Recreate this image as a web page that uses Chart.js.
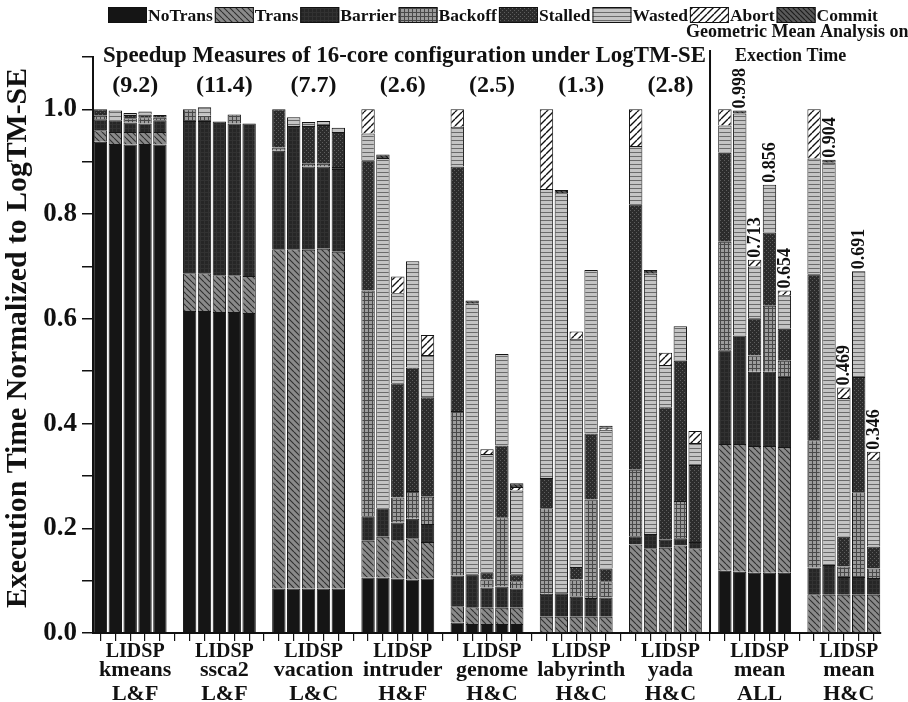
<!DOCTYPE html>
<html><head><meta charset="utf-8">
<script src="https://cdn.jsdelivr.net/npm/chart.js@4.4.1/dist/chart.umd.min.js"></script>
<style>html,body{margin:0;padding:0;background:#fff;}canvas{display:block;}</style>
</head><body>
<canvas id="c" width="908" height="702"></canvas>
<script>
// ---------- data ----------
const groupNames = ['kmeans','ssca2','vacation','intruder','genome','labyrinth','yada','mean','mean'];
const groupTypes = ['L&F','L&F','L&C','H&F','H&C','H&C','H&C','ALL','H&C'];
const barLetters = ['L','I','D','S','P'];
const speedups = ['(9.2)','(11.4)','(7.7)','(2.6)','(2.5)','(1.3)','(2.8)'];
const meanAllLabels = ['', '0.998', '0.713', '0.856', '0.654'];
const meanHCLabels  = ['', '0.904', '0.469', '0.691', '0.346'];
const seriesNames = ['NoTrans','Trans','Barrier','Backoff','Stalled','Wasted','Abort','Commit'];
const yTicks = [0, 0.2, 0.4, 0.6, 0.8, 1.0];

// values: 9 groups x 5 bars (L,I,D,S,P)
const noTrans = [
 .938,.934,.933,.934,.933,  .615,.615,.613,.613,.611,  .085,.085,.085,.085,.085,
 .106,.106,.104,.102,.104,  .020,.017,.017,.017,.017,  0,0,0,0,0,
 0,0,0,0,0,  .119,.117,.115,.115,.115,  0,0,0,0,0];
const trans = [
 .022,.023,.024,.023,.024,  .072,.072,.070,.070,.071,  .648,.648,.647,.649,.643,
 .070,.078,.073,.079,.070,  .031,.032,.031,.031,.031,  .031,.031,.031,.031,.031,
 .169,.162,.163,.167,.162,  .242,.244,.242,.242,.240,  .074,.073,.073,.073,.073];
const barrier = [
 .021,.022,.018,.016,.022,  .291,.291,.294,.290,.291,  .188,.235,.159,.157,.158,
 .047,.054,.034,.037,.034,  .059,.063,.039,.041,.037,  .044,.045,.038,.036,.037,
 .016,.027,.015,.014,.012,  .179,.207,.142,.142,.134,  .051,.057,.034,.034,.032];
const backoff = [
 .007,0,.008,.012,.005,  .022,.010,0,.017,0,  .006,0,.005,.005,.004,
 .431,0,.048,.053,.052,  .314,0,.015,.132,.014,  .163,0,.033,.188,.031,
 .127,0,0,.071,0,  .207,0,.031,.126,.031,  .243,0,.020,.162,.018];
const stalled = [
 .012,0,.006,.005,.005,  0,0,0,0,0,  .073,0,.072,.074,.067,
 .249,0,.218,.236,.190,  .467,0,.014,.137,.013,  .058,0,.024,.126,.024,
 .507,0,.253,.268,.147,  .170,0,.071,.140,.061,  .317,0,.057,.220,.042];
const wasted = [
 0,.019,.004,.006,0,  0,.016,0,0,0,  0,.017,.008,.008,.008,
 .051,.669,.172,.203,.081,  .076,.517,.226,.175,.160,  .552,.764,.436,.312,.265,
 .111,.497,.081,.066,.042,  .052,.424,.099,.091,.064,  .221,.768,.265,.202,.165];
const abort = [
 0,0,0,0,0,  0,0,0,0,0,  0,0,0,0,0,
 .046,0,.032,0,.038,  .033,0,.009,0,.007,  .152,0,.014,0,.004,
 .070,0,.023,0,.023,  .031,0,.013,0,.009,  .094,0,.020,0,.016];
const commit = [
 0,0,0,0,0,  0,0,0,0,0,  0,0,0,0,0,
 0,.007,0,0,0,  0,.006,0,0,.007,  0,.006,0,0,.004,
 0,.007,0,0,0,  0,.006,0,0,0,  0,.006,0,0,0];
const allSeries = [noTrans, trans, barrier, backoff, stalled, wasted, abort, commit];

// ---------- patterns ----------
function makePattern(size, bg, draw) {
  const c = document.createElement('canvas'); c.width = size; c.height = size;
  const x = c.getContext('2d');
  x.fillStyle = bg; x.fillRect(0, 0, size, size);
  if (draw) draw(x, size);
  return x.createPattern(c, 'repeat');
}
function backLines(x, s, col, w) { x.strokeStyle = col; x.lineWidth = w; x.beginPath();
  for (let k = -1; k <= 1; k++) { x.moveTo(k*s, 0); x.lineTo(k*s + s, s); } x.stroke(); }
function fwdLines(x, s, col, w) { x.strokeStyle = col; x.lineWidth = w; x.beginPath();
  for (let k = -1; k <= 1; k++) { x.moveTo(k*s, s); x.lineTo(k*s + s, 0); } x.stroke(); }
const fills = [
  '#151515',
  makePattern(6, '#8a8a8a', (x, s) => backLines(x, s, '#2e2e2e', 1.1)),
  makePattern(4, '#262626', (x, s) => { x.fillStyle = '#323232'; x.fillRect(0, 0, s, 1); x.fillRect(0, 0, 1, s); }),
  makePattern(4, '#9c9c9c', (x, s) => { x.fillStyle = '#484848'; x.fillRect(0, 0, s, 1); x.fillRect(0, 0, 1, s); }),
  makePattern(4, '#2c2c2c', (x, s) => { x.fillStyle = '#5e5e5e'; x.fillRect(0, 0, 1, 1); x.fillRect(2, 2, 1, 1); }),
  makePattern(4, '#c4c4c4', (x, s) => { x.fillStyle = '#6a6a6a'; x.fillRect(0, 0, s, 1); }),
  makePattern(7, '#ffffff', (x, s) => fwdLines(x, s, '#111111', 1.4)),
  makePattern(5, '#5a5a5a', (x, s) => backLines(x, s, '#1c1c1c', 1.2))
];

// ---------- slots (5 bars per group, one empty slot between groups) ----------
const slotLabels = [];
const slotIndex = (g, b) => g * 6 + b;
for (let g = 0; g < groupNames.length; g++) {
  for (let b = 0; b < 5; b++) slotLabels.push(groupNames[g] + ' ' + barLetters[b]);
  if (g < groupNames.length - 1) slotLabels.push('');
}
function toSlots(arr) {
  const out = new Array(slotLabels.length).fill(null);
  arr.forEach((v, i) => { const g = Math.floor(i / 5), b = i % 5; out[slotIndex(g, b)] = v > 0 ? v : null; });
  return out;
}
function barTotal(i) { return allSeries.reduce((s, a) => s + a[i], 0); }

const SERIF = '"Liberation Serif", "Times New Roman", serif';

const decor = {
  id: 'decor',
  beforeDraw(chart) {
    const ctx = chart.ctx; ctx.save(); ctx.fillStyle = '#fff'; ctx.fillRect(0, 0, chart.width, chart.height); ctx.restore();
  },
  afterDraw(chart) {
    const ctx = chart.ctx, xs = chart.scales.x, ys = chart.scales.y;
    ctx.save();
    ctx.fillStyle = '#111'; ctx.strokeStyle = '#111';
    // legend
    ctx.font = 'bold 17.5px ' + SERIF; ctx.textBaseline = 'alphabetic'; ctx.textAlign = 'left';
    let lx = 108;
    chart.data.datasets.forEach(ds => {
      ctx.fillStyle = ds.backgroundColor; ctx.fillRect(lx, 7, 39, 16);
      ctx.lineWidth = 1; ctx.strokeStyle = '#111'; ctx.strokeRect(lx + 0.5, 7.5, 38, 15);
      lx += 40;
      ctx.fillStyle = '#111'; ctx.fillText(ds.label, lx, 21);
      lx += ctx.measureText(ds.label).width + 2;
    });
    // titles
    ctx.font = 'bold 23px ' + SERIF;
    ctx.fillText('Speedup Measures of 16-core configuration under LogTM-SE', 103, 62, 603);
    ctx.font = 'bold 18px ' + SERIF;
    ctx.fillText('Geometric Mean Analysis on', 686, 37);
    ctx.fillText('Exection Time', 735, 61);
    // speedups
    ctx.font = 'bold 24px ' + SERIF; ctx.textAlign = 'center';
    speedups.forEach((t, g) => ctx.fillText(t, xs.getPixelForValue(slotIndex(g, 2)) + 5, 92));
    // divider
    const dx = xs.getPixelForValue(41);
    ctx.lineWidth = 2; ctx.beginPath(); ctx.moveTo(dx, 50); ctx.lineTo(dx, ys.bottom); ctx.stroke();
    // x labels
    for (let g = 0; g < groupNames.length; g++) {
      const cx = xs.getPixelForValue(slotIndex(g, 2)) + 5;
      ctx.font = 'bold 20px ' + SERIF; ctx.fillText(barLetters.join(''), cx, 657);
      ctx.font = 'bold 22px ' + SERIF; ctx.fillText(groupNames[g], cx, 676);
      ctx.fillText(groupTypes[g], cx, 700);
    }
    // y title
    ctx.save(); ctx.translate(26, 338); ctx.rotate(-Math.PI / 2);
    ctx.font = 'bold 30px ' + SERIF; ctx.textAlign = 'center';
    ctx.fillText('Execution Time Normalized to LogTM-SE', 0, 0, 540);
    ctx.restore();
    // mean value labels
    ctx.font = 'bold 18px ' + SERIF; ctx.textAlign = 'left'; ctx.textBaseline = 'middle';
    [[7, meanAllLabels], [8, meanHCLabels]].forEach(([g, labs]) => {
      labs.forEach((t, b) => {
        if (!t) return;
        const cx = xs.getPixelForValue(slotIndex(g, b));
        const top = ys.getPixelForValue(barTotal(g * 5 + b));
        ctx.save(); ctx.translate(cx + 1, top - 2); ctx.rotate(-Math.PI / 2);
        ctx.fillText(t, 0, 0); ctx.restore();
      });
    });
    ctx.restore();
  }
};

new Chart(document.getElementById('c'), {
  type: 'bar',
  data: {
    labels: slotLabels,
    datasets: seriesNames.map((n, i) => ({
      label: n, data: toSlots(allSeries[i]), backgroundColor: fills[i],
      borderColor: '#151515', borderWidth: 1, barPercentage: 0.9, categoryPercentage: 1.0
    }))
  },
  options: {
    responsive: false, animation: false, devicePixelRatio: 1,
    layout: { padding: { left: 0, right: 27, top: 57, bottom: 0 } },
    plugins: { legend: { display: false }, tooltip: { enabled: false } },
    scales: {
      x: {
        stacked: true,
        grid: { drawOnChartArea: false, offset: false, tickLength: 8, color: '#111', lineWidth: 1.2 },
        border: { display: true, color: '#111', width: 2 },
        ticks: { display: false },
        afterFit(s) { s.height = 69; }
      },
      y: {
        stacked: true, min: 0, max: 1.1,
        grid: { drawOnChartArea: false, tickLength: 11, color: '#111', lineWidth: 1.5 },
        border: { display: true, color: '#111', width: 2 },
        ticks: {
          stepSize: 0.1, padding: 5, color: '#111',
          font: { family: SERIF, size: 27, weight: 'bold' },
          callback: v => { const r = Math.round(v * 10) / 10; return yTicks.some(t => Math.abs(t - r) < 1e-6) ? r.toFixed(1) : ''; }
        },
        afterFit(s) { s.width = 93; }
      }
    }
  },
  plugins: [decor]
});
</script></body></html>
